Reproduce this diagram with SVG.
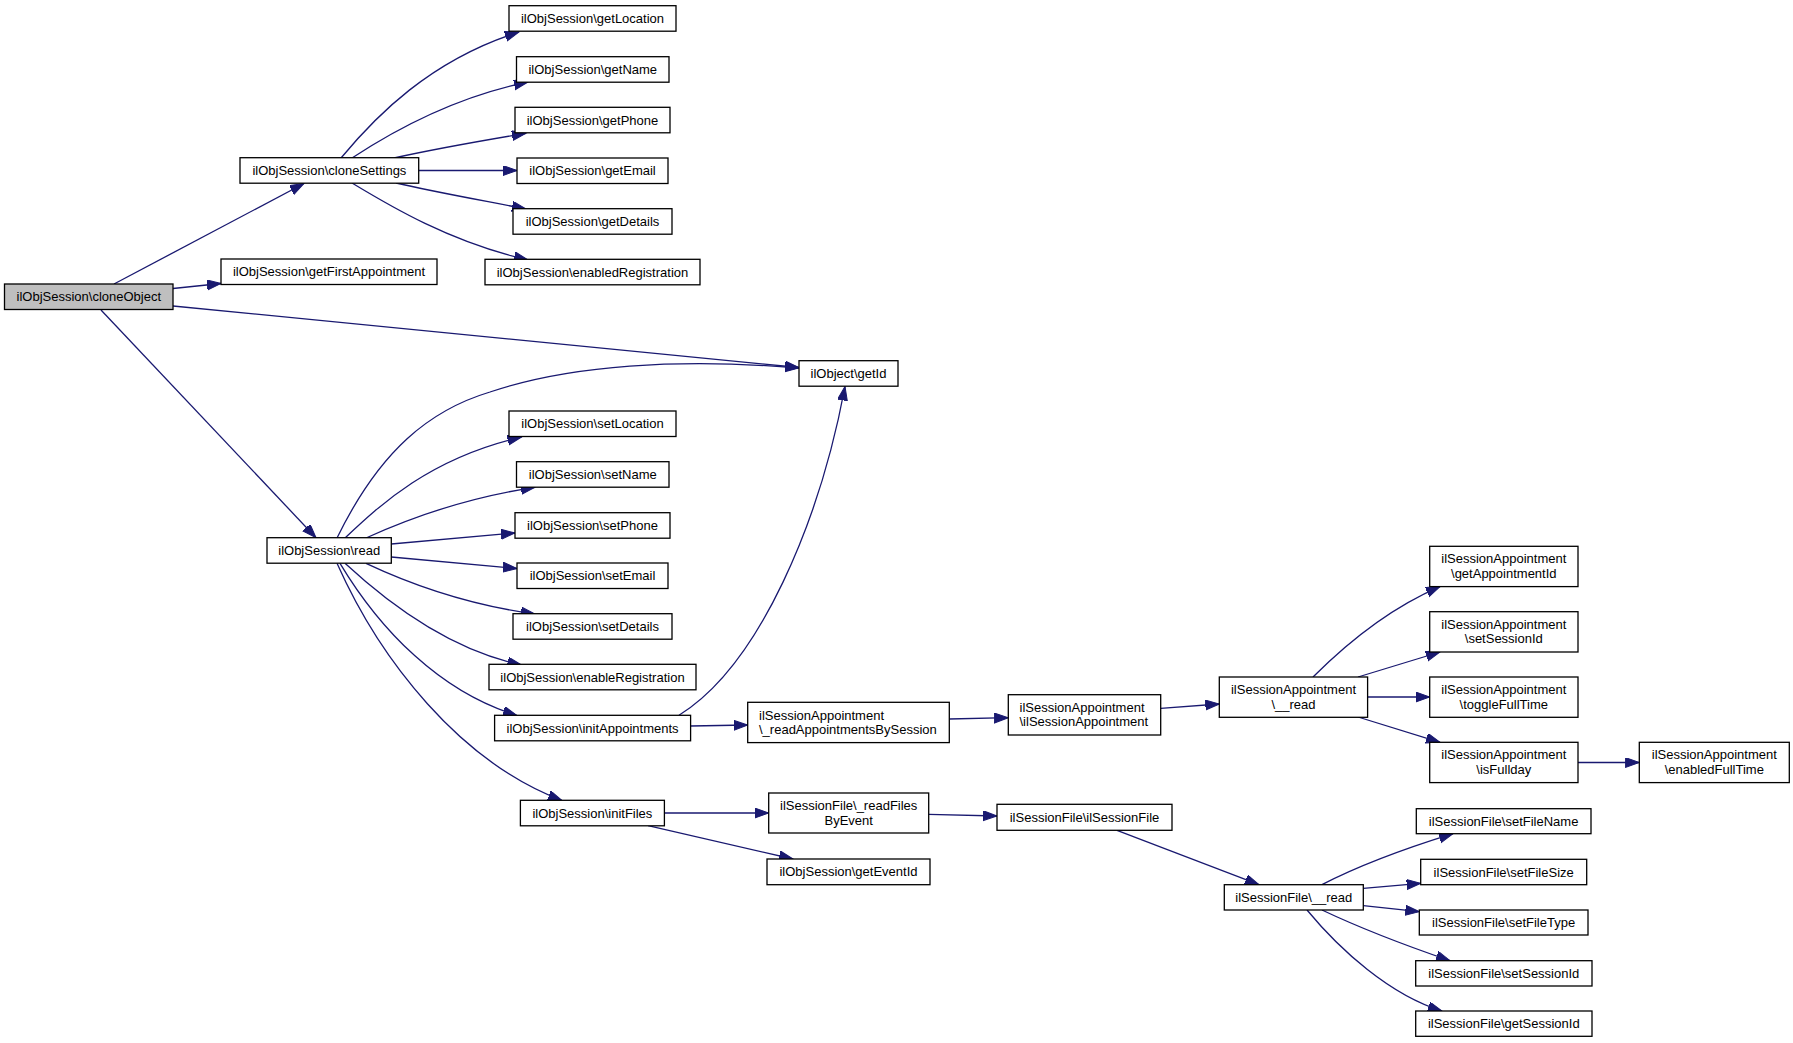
<svg xmlns="http://www.w3.org/2000/svg" width="1793" height="1043" viewBox="0 0 1793 1043">
<style>
.n rect{fill:#fff;stroke:#000;stroke-width:1.3}
.n.g rect{fill:#bfbfbf}
.n text{font-family:"Liberation Sans",Arial,Helvetica,sans-serif;font-size:13px;fill:#000;text-anchor:middle}
.n text.l{text-anchor:start}
#edges path{fill:none;stroke:#191970;stroke-width:1.3;marker-end:url(#ah)}
</style>
<defs>
<marker id="ah" markerUnits="userSpaceOnUse" markerWidth="16" markerHeight="12" refX="14" refY="5" orient="auto">
<path d="M0,0 L14,5 L0,10 Z" fill="#191970" stroke="#191970" stroke-width="1"/>
</marker>
</defs>
<rect width="1793" height="1043" fill="#fff"/>
<g id="edges">
<path d="M114,284 L304,183.5"/>
<path d="M173,288.5 L221,283.5"/>
<path d="M173,306 L799,367.5"/>
<path d="M101,310 L316,537.7"/>
<path d="M341,158 C375,117 430,60 519,32"/>
<path d="M352,158 C390,133 450,98 528,82"/>
<path d="M394,158 C430,150 480,141 526,133.3"/>
<path d="M418.7,170.5 L517,170.5"/>
<path d="M396,183 C430,191 480,200 526,209"/>
<path d="M352,183 C390,206 450,242 528,260"/>
<path d="M337,538 C380,450 430,410 490,392 C570,365 680,358 799,368"/>
<path d="M345,538 C380,505 430,458 521.5,437"/>
<path d="M366,538 C410,518 470,497 535,487.3"/>
<path d="M391.3,544 L515,533"/>
<path d="M391.3,557 L517,568.5"/>
<path d="M366,563.3 C410,584 470,605 535,614"/>
<path d="M345,563.3 C390,605 450,650 521.5,665"/>
<path d="M340,563.3 C380,630 440,692 517,715.5"/>
<path d="M337,563.3 C380,660 460,762 562,800.5"/>
<path d="M679,715.3 C760,665 820,520 845,386.5"/>
<path d="M690.7,726 L747.7,725"/>
<path d="M949.3,719 L1008.3,717.7"/>
<path d="M1160.7,708.3 L1219.3,704"/>
<path d="M1313,677 C1345,645 1390,608 1440,586.6"/>
<path d="M1358,677 L1440,652"/>
<path d="M1367.6,697 L1429.7,697"/>
<path d="M1358,717 L1440,742.3"/>
<path d="M1578,762.5 L1639.3,762.5"/>
<path d="M664.4,813 L768.7,813"/>
<path d="M648,825.7 L793,859"/>
<path d="M928.7,814.3 L997,816"/>
<path d="M1117,830.3 L1259,884.7"/>
<path d="M1322,884.7 C1360,865 1410,847 1453,833.7"/>
<path d="M1363.3,888.3 L1420.7,883.3"/>
<path d="M1363.3,905.7 L1419.3,911.7"/>
<path d="M1322,910 C1360,928 1410,947 1450,960.7"/>
<path d="M1307,910 C1340,950 1390,995 1442,1011"/>
</g>
<g id="n_cloneObject" class="n g"><rect x="4.5" y="284" width="168.5" height="25.5"/><text x="88.8" y="301.3">ilObjSession\cloneObject</text></g>
<g id="n_cloneSettings" class="n"><rect x="240" y="157.7" width="178.7" height="25.5"/><text x="329.4" y="175">ilObjSession\cloneSettings</text></g>
<g id="n_getFirstAppointment" class="n"><rect x="221" y="259" width="216" height="25.5"/><text x="329" y="276.3">ilObjSession\getFirstAppointment</text></g>
<g id="n_getLocation" class="n"><rect x="509" y="5.7" width="167" height="25.5"/><text x="592.5" y="23">ilObjSession\getLocation</text></g>
<g id="n_getName" class="n"><rect x="516.5" y="56.7" width="152.5" height="25.5"/><text x="592.8" y="74">ilObjSession\getName</text></g>
<g id="n_getPhone" class="n"><rect x="515" y="107.3" width="155" height="25.5"/><text x="592.5" y="124.6">ilObjSession\getPhone</text></g>
<g id="n_getEmail" class="n"><rect x="517" y="158" width="151" height="25.5"/><text x="592.5" y="175.3">ilObjSession\getEmail</text></g>
<g id="n_getDetails" class="n"><rect x="513" y="208.7" width="159" height="25.5"/><text x="592.5" y="226">ilObjSession\getDetails</text></g>
<g id="n_enabledRegistration" class="n"><rect x="485" y="259.3" width="215" height="25.5"/><text x="592.5" y="276.6">ilObjSession\enabledRegistration</text></g>
<g id="n_getId" class="n"><rect x="799" y="360.7" width="99" height="25.5"/><text x="848.5" y="378">ilObject\getId</text></g>
<g id="n_read" class="n"><rect x="267" y="537.7" width="124.3" height="25.5"/><text x="329.2" y="555">ilObjSession\read</text></g>
<g id="n_setLocation" class="n"><rect x="509" y="411" width="167" height="25.5"/><text x="592.5" y="428.3">ilObjSession\setLocation</text></g>
<g id="n_setName" class="n"><rect x="516.5" y="461.7" width="152.5" height="25.5"/><text x="592.8" y="479">ilObjSession\setName</text></g>
<g id="n_setPhone" class="n"><rect x="515" y="512.7" width="155" height="25.5"/><text x="592.5" y="530">ilObjSession\setPhone</text></g>
<g id="n_setEmail" class="n"><rect x="517" y="563" width="151" height="25.5"/><text x="592.5" y="580.3">ilObjSession\setEmail</text></g>
<g id="n_setDetails" class="n"><rect x="513" y="613.7" width="159" height="25.5"/><text x="592.5" y="631">ilObjSession\setDetails</text></g>
<g id="n_enableRegistration" class="n"><rect x="489" y="664.3" width="207" height="25.5"/><text x="592.5" y="681.6">ilObjSession\enableRegistration</text></g>
<g id="n_initAppointments" class="n"><rect x="494.6" y="715.3" width="196" height="25.5"/><text x="592.6" y="732.6">ilObjSession\initAppointments</text></g>
<g id="n_initFiles" class="n"><rect x="520.4" y="800.3" width="144" height="25.5"/><text x="592.4" y="817.6">ilObjSession\initFiles</text></g>
<g id="n_readAppointmentsBySession" class="n"><rect x="747.7" y="702.3" width="201.6" height="40.3"/><text class="l" x="759" y="719.5">ilSessionAppointment</text><text class="l" x="759" y="734">\_readAppointmentsBySession</text></g>
<g id="n_ilSessionAppointment" class="n"><rect x="1008.3" y="694.7" width="152.4" height="40.3"/><text class="l" x="1019.5" y="711.8">ilSessionAppointment</text><text class="l" x="1019.5" y="726.3">\ilSessionAppointment</text></g>
<g id="n_apptRead" class="n"><rect x="1219.3" y="677" width="148.3" height="40.3"/><text x="1293.5" y="694.1">ilSessionAppointment</text><text x="1293.5" y="708.6">\__read</text></g>
<g id="n_getAppointmentId" class="n"><rect x="1429.7" y="546.3" width="148.3" height="40.3"/><text x="1503.8" y="563.4">ilSessionAppointment</text><text x="1503.8" y="577.9">\getAppointmentId</text></g>
<g id="n_apptSetSessionId" class="n"><rect x="1429.7" y="611.7" width="148.3" height="40.3"/><text x="1503.8" y="628.8">ilSessionAppointment</text><text x="1503.8" y="643.3">\setSessionId</text></g>
<g id="n_toggleFullTime" class="n"><rect x="1429.7" y="677" width="148.3" height="40.3"/><text x="1503.8" y="694.1">ilSessionAppointment</text><text x="1503.8" y="708.6">\toggleFullTime</text></g>
<g id="n_isFullday" class="n"><rect x="1429.7" y="742.3" width="148.3" height="40.3"/><text x="1503.8" y="759.4">ilSessionAppointment</text><text x="1503.8" y="773.9">\isFullday</text></g>
<g id="n_enabledFullTime" class="n"><rect x="1639.3" y="742.3" width="150" height="40.3"/><text x="1714.3" y="759.4">ilSessionAppointment</text><text x="1714.3" y="773.9">\enabledFullTime</text></g>
<g id="n_readFilesByEvent" class="n"><rect x="768.7" y="793" width="160" height="40"/><text x="848.7" y="810">ilSessionFile\_readFiles</text><text x="848.7" y="824.5">ByEvent</text></g>
<g id="n_getEventId" class="n"><rect x="767" y="859" width="163" height="25.7"/><text x="848.5" y="876.4">ilObjSession\getEventId</text></g>
<g id="n_ilSessionFile" class="n"><rect x="997" y="804.3" width="175" height="26"/><text x="1084.5" y="821.8">ilSessionFile\ilSessionFile</text></g>
<g id="n_fileRead" class="n"><rect x="1224.3" y="884.7" width="139" height="25.3"/><text x="1293.8" y="901.9">ilSessionFile\__read</text></g>
<g id="n_setFileName" class="n"><rect x="1416.3" y="808.7" width="174.7" height="25"/><text x="1503.6" y="825.7">ilSessionFile\setFileName</text></g>
<g id="n_setFileSize" class="n"><rect x="1420.7" y="859.3" width="166" height="25.4"/><text x="1503.7" y="876.5">ilSessionFile\setFileSize</text></g>
<g id="n_setFileType" class="n"><rect x="1419.3" y="910" width="168.7" height="25"/><text x="1503.6" y="927">ilSessionFile\setFileType</text></g>
<g id="n_fileSetSessionId" class="n"><rect x="1415.7" y="960.7" width="176.3" height="25.3"/><text x="1503.8" y="977.9">ilSessionFile\setSessionId</text></g>
<g id="n_getSessionId" class="n"><rect x="1415.7" y="1011" width="176.3" height="25.3"/><text x="1503.8" y="1028.2">ilSessionFile\getSessionId</text></g>
</svg>
